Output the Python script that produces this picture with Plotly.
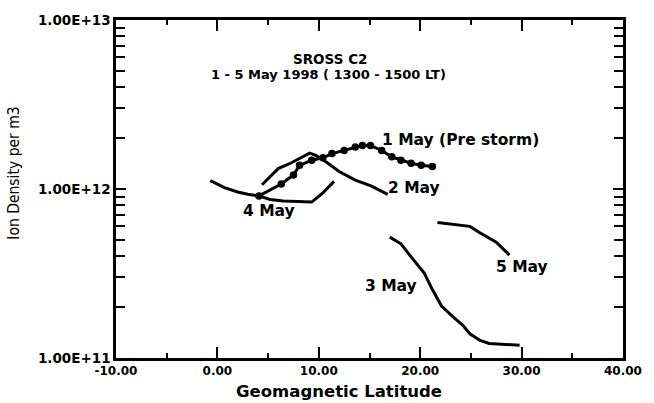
import plotly.graph_objects as go

# Ion density (m^-3) versus geomagnetic latitude, SROSS C2, 1-5 May 1998
may1_lat = [4.1, 6.3, 7.5, 8.1, 9.3, 10.4, 11.3, 12.5, 13.6, 14.3, 15.1, 16.2, 17.2, 18.1, 19.1, 20.1, 21.2]
may1_den = [0.91e12, 1.07e12, 1.21e12, 1.38e12, 1.48e12, 1.53e12, 1.62e12, 1.69e12, 1.77e12, 1.81e12,
            1.81e12, 1.69e12, 1.55e12, 1.48e12, 1.42e12, 1.38e12, 1.36e12]

may2_lat = [4.4, 6.0, 7.3, 8.4, 9.1, 9.7, 10.7, 12.0, 13.6, 15.2, 16.8]
may2_den = [1.06e12, 1.32e12, 1.43e12, 1.55e12, 1.63e12, 1.58e12, 1.45e12, 1.27e12, 1.13e12, 1.04e12, 0.93e12]

may3_lat = [17.0, 18.1, 19.1, 20.4, 21.2, 22.1, 23.3, 24.2, 24.9, 25.9, 26.8, 28.4, 29.8]
may3_den = [5.19e11, 4.74e11, 3.97e11, 3.18e11, 2.54e11, 2.03e11, 1.74e11, 1.56e11, 1.39e11, 1.27e11,
            1.22e11, 1.20e11, 1.19e11]

may4_lat = [-0.7, 0.7, 2.0, 3.0, 4.1, 5.2, 6.5, 8.1, 9.3, 10.4, 11.5]
may4_den = [1.12e12, 1.02e12, 0.96e12, 0.93e12, 0.91e12, 0.867e12, 0.848e12, 0.837e12, 0.837e12, 0.948e12, 1.11e12]

may5_lat = [21.7, 22.9, 24.9, 25.8, 27.5, 28.8]
may5_den = [6.34e11, 6.20e11, 6.01e11, 5.55e11, 4.85e11, 4.06e11]

x_ticks = [-10, 0, 10, 20, 30, 40]
x_tick_text = ["-10.00", "0.00", "10.00", "20.00", "30.00", "40.00"]
y_ticks = [1e11, 1e12, 1e13]
y_tick_text = ["1.00E+11", "1.00E+12", "1.00E+13"]
y_minor = [m * 10 ** e for e in (11, 12) for m in range(2, 10)]

# curve labels: text, left x (deg), log10 density
label_text = ["1 May (Pre storm)", "2 May", "3 May", "4 May", "5 May"]
label_x = [16.0, 16.6, 14.4, 2.3, 27.3]
label_logy = [12.291, 12.006, 11.424, 11.872, 11.541]

BOLD = dict(family="DejaVu Sans", color="black", weight="bold")
line_style = dict(color="black", width=3)

fig = go.Figure()
fig.add_trace(go.Scatter(x=may1_lat, y=may1_den, mode="lines+markers", line=line_style,
                         marker=dict(color="black", size=7.5)))
for lat, den in [(may2_lat, may2_den), (may3_lat, may3_den), (may4_lat, may4_den), (may5_lat, may5_den)]:
    fig.add_trace(go.Scatter(x=lat, y=den, mode="lines", line=line_style))

for t, x, y in zip(label_text, label_x, label_logy):
    fig.add_annotation(x=x, y=y, xref="x", yref="y", text=t, showarrow=False,
                       xanchor="left", yanchor="middle", font=dict(BOLD, size=15.5))

fig.add_annotation(x=11.1, y=0.884, xref="x", yref="paper", text="SROSS C2", showarrow=False,
                   xanchor="center", yanchor="middle", font=dict(BOLD, size=13.5))
fig.add_annotation(x=11.0, y=0.8395, xref="x", yref="paper", text="1 - 5 May 1998 ( 1300 - 1500 LT)",
                   showarrow=False, xanchor="center", yanchor="middle", font=dict(BOLD, size=13))
fig.add_annotation(x=11.95, y=-0.098, xref="x", yref="paper", text="Geomagnetic Latitude",
                   showarrow=False, xanchor="center", yanchor="middle", font=dict(BOLD, size=16.5))
fig.add_annotation(x=-0.20, y=0.547, xref="paper", yref="paper", text="Ion Density per m3",
                   showarrow=False, textangle=-90, xanchor="center", yanchor="middle",
                   font=dict(family="Liberation Sans Narrow, DejaVu Sans Condensed, Liberation Sans",
                             size=15.5, color="black"))

axis_common = dict(showline=True, linecolor="black", linewidth=2.5, mirror="ticks",
                   ticks="inside", tickcolor="black", tickwidth=2, showgrid=False, zeroline=False)

fig.update_xaxes(range=[-10, 40], tickvals=x_ticks, ticktext=x_tick_text, ticklen=11,
                 tickfont=dict(BOLD, size=12),
                 minor=dict(dtick=5, ticks="inside", ticklen=5, tickwidth=2, tickcolor="black", showgrid=False),
                 **axis_common)
fig.update_yaxes(type="log", range=[11, 13], tickvals=y_ticks, ticktext=y_tick_text, ticklen=10,
                 tickfont=dict(BOLD, size=13.5),
                 minor=dict(tickvals=y_minor, ticks="inside", ticklen=9, tickwidth=2, tickcolor="black",
                            showgrid=False),
                 **axis_common)

fig.update_layout(width=654, height=403, margin=dict(l=116, r=21, t=14, b=45),
                  paper_bgcolor="white", plot_bgcolor="white", showlegend=False)

fig.write_html("out.html")
